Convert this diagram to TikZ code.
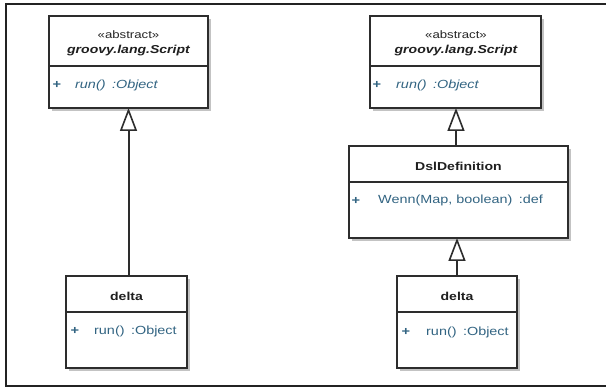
\documentclass[tikz,border=0pt]{standalone}
\usepackage{fontspec}
\setmainfont{Liberation Sans}
\newfontfamily\umlfont[FakeStretch=1.22]{Liberation Sans}
\usetikzlibrary{arrows.meta,shadows}
\definecolor{frameline}{RGB}{35,35,35}
\definecolor{boxline}{RGB}{45,45,45}
\definecolor{attrcol}{RGB}{50,100,130}
\definecolor{shadecol}{RGB}{195,195,195}
\tikzset{
  classbox/.style={draw=boxline, line width=1.6pt, fill=white, inner sep=0pt, outer sep=0pt, anchor=north west,
    drop shadow={shadow xshift=3pt, shadow yshift=-3pt, fill=shadecol, opacity=1}},
  divider/.style={draw=boxline, line width=1.4pt},
  stereo/.style={font=\umlfont\fontsize{10.8}{12}\selectfont, text=black!85, inner sep=0pt},
  cname/.style={font=\umlfont\fontsize{11.5}{13}\selectfont\bfseries, text=black!88, inner sep=0pt},
  cnameit/.style={font=\umlfont\fontsize{11.5}{13}\selectfont\bfseries\itshape, text=black!88, inner sep=0pt},
  vis/.style={font=\umlfont\fontsize{12}{13}\selectfont\bfseries, text=attrcol, inner sep=0pt},
  oper/.style={font=\umlfont\fontsize{11.8}{13}\selectfont, text=attrcol, inner sep=0pt, anchor=west},
  inherit/.style={draw=boxline, line width=2pt, -{Triangle[open, length=23pt, width=17pt, line width=1.6pt]}},
  framestyle/.style={draw=frameline, line width=1.8pt},
}
\begin{document}
\begin{tikzpicture}[x=1pt,y=-1pt]
\useasboundingbox (0,0) rectangle (606,387);
\fill[white] (0,0) rectangle (606,387);
% outer frame
\draw[framestyle] (608,4) -- (6,4) -- (6,386) -- (608,386);

% ===== left: groovy.lang.Script =====
\node[classbox, minimum width=159pt, minimum height=92pt] (scriptL) at (49,16) {};
\draw[divider] (49,66) -- (208,66);
\node[stereo] (stL) at (128.5,34.5) {«abstract»};
\node[cnameit] (nmL) at (128.5,50.5) {groovy.lang.Script};
\node[vis] (pL) at (57,85) {+};
\node[oper] (oL) at (75,85) {\itshape run()\hspace{0.55em}:Object};

% ===== left: delta =====
\node[classbox, minimum width=121pt, minimum height=92pt] (deltaL) at (66,276) {};
\draw[divider] (66,312) -- (187,312);
\node[cname] (dnL) at (126.5,296.5) {delta};
\node[vis] (dpL) at (75,331) {+};
\node[oper] (doL) at (94,331) {run()\hspace{0.55em}:Object};

% ===== right: groovy.lang.Script =====
\node[classbox, minimum width=171pt, minimum height=92pt] (scriptR) at (370,16) {};
\draw[divider] (370,66) -- (541,66);
\node[stereo] (stR) at (456,34.5) {«abstract»};
\node[cnameit] (nmR) at (456,50.5) {groovy.lang.Script};
\node[vis] (pR) at (377,85) {+};
\node[oper] (oR) at (396,85) {\itshape run()\hspace{0.55em}:Object};

% ===== right: DslDefinition =====
\node[classbox, minimum width=219pt, minimum height=92pt] (dsl) at (349,146) {};
\draw[divider] (349,182) -- (568,182);
\node[cname] (dslN) at (458.5,166.5) {DslDefinition};
\node[vis] (dslP) at (356,200.5) {+};
\node[oper] (dslO) at (378,200.5) {Wenn(Map, boolean)\hspace{0.55em}:def};

% ===== right: delta =====
\node[classbox, minimum width=120pt, minimum height=92pt] (deltaR) at (397,276) {};
\draw[divider] (397,312) -- (517,312);
\node[cname] (dnR) at (457,296.5) {delta};
\node[vis] (dpR) at (406,332) {+};
\node[oper] (doR) at (426,332) {run()\hspace{0.55em}:Object};

% ===== generalizations =====
\draw[inherit] (scriptL.south |- deltaL.north) -- (scriptL.south);
\draw[inherit] (stR |- dsl.north) -- (stR |- scriptR.south);
\draw[inherit] (deltaR.north) -- (deltaR.north |- dsl.south);
\end{tikzpicture}
\end{document}
